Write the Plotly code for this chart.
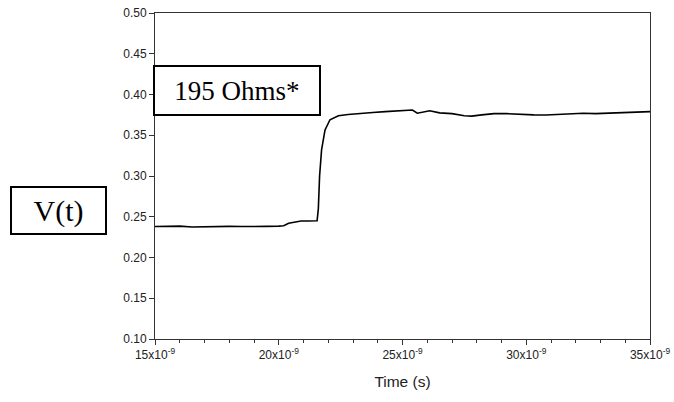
import plotly.graph_objects as go

time_ns = [15.0, 15.5, 16.0, 16.5, 17.0, 17.5, 18.0, 18.5, 19.0, 19.5, 20.0, 20.2, 20.4, 20.6,
           20.9, 21.2, 21.55, 21.6, 21.65, 21.73, 21.87, 22.07, 22.41, 22.8, 23.3, 23.8, 24.3,
           24.9, 25.4, 25.6, 25.8, 26.1, 26.5, 27.0, 27.5, 27.8, 28.2, 28.7, 29.2, 29.8, 30.3,
           30.8, 31.3, 31.8, 32.3, 32.8, 33.3, 33.8, 34.3, 35.0]
voltage = [0.238, 0.238, 0.2385, 0.2375, 0.238, 0.2378, 0.2382, 0.238, 0.2385, 0.2382, 0.2385,
           0.239, 0.242, 0.2435, 0.2448, 0.2448, 0.245, 0.26, 0.30, 0.332, 0.3565, 0.369, 0.374,
           0.3755, 0.377, 0.378, 0.379, 0.380, 0.381, 0.377, 0.378, 0.380, 0.3775, 0.3765, 0.374,
           0.3735, 0.375, 0.3765, 0.3765, 0.3755, 0.375, 0.3748, 0.3758, 0.376, 0.377, 0.3765,
           0.377, 0.3775, 0.378, 0.379]
x_tick_ns = [15, 20, 25, 30, 35]
x_tick_text = ["15x10<sup>-9</sup>", "20x10<sup>-9</sup>", "25x10<sup>-9</sup>",
               "30x10<sup>-9</sup>", "35x10<sup>-9</sup>"]

time_s = [t * 1e-9 for t in time_ns]
tickvals = [t * 1e-9 for t in x_tick_ns]

fig = go.Figure()
fig.add_trace(go.Scatter(x=time_s, y=voltage, mode="lines",
                         line=dict(color="black", width=1.6), showlegend=False))

axis_font = dict(family="Liberation Sans, Arial", size=12, color="#222")
fig.update_layout(
    width=674, height=402,
    margin=dict(l=155, r=24, t=13, b=63),
    paper_bgcolor="white", plot_bgcolor="white",
    xaxis=dict(range=[15e-9, 35e-9], tickvals=tickvals, ticktext=x_tick_text,
               automargin=False,
               ticks="outside", ticklen=5, tickcolor="#333", showgrid=False,
               zeroline=False, showline=True, linecolor="#333", linewidth=1, mirror=True,
               tickfont=axis_font,
               minor=dict(dtick=1e-9, ticks="outside", ticklen=3, tickcolor="#333", showgrid=False),
               title=dict(text="Time (s)", font=dict(family="Liberation Sans, Arial", size=15.5, color="#222"),
                          standoff=14)),
    yaxis=dict(range=[0.10, 0.50], dtick=0.05, tickformat=".2f",
               automargin=False,
               ticks="outside", ticklen=5, tickcolor="#333", showgrid=False,
               zeroline=False, showline=True, linecolor="#333", linewidth=1, mirror=True,
               tickfont=axis_font),
)

fig.add_annotation(xref="paper", yref="paper", x=-0.004, y=0.8405, xanchor="left", yanchor="top",
                   text="195 Ohms*", showarrow=False,
                   font=dict(family="Liberation Serif, Times New Roman", size=27, color="black"),
                   bordercolor="black", borderwidth=2, bgcolor="white",
                   width=162, height=45, align="center")
fig.add_annotation(xref="paper", yref="paper", x=-0.293, y=0.469, xanchor="left", yanchor="top",
                   text="V(t)", showarrow=False,
                   font=dict(family="Liberation Serif, Times New Roman", size=30, color="black"),
                   bordercolor="black", borderwidth=2, bgcolor="white",
                   width=91, height=43, align="center")

fig.write_html("out.html")
